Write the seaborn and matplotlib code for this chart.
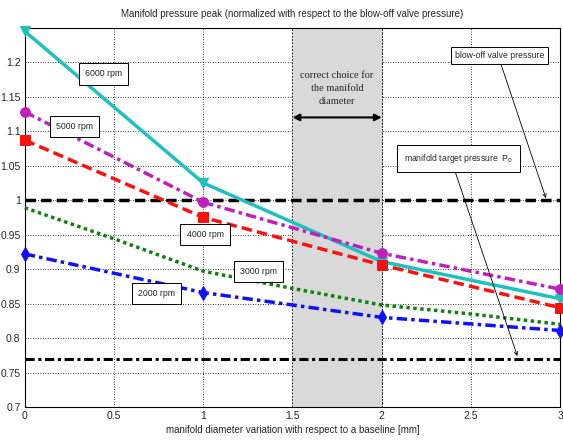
import numpy as np
import pandas as pd
import matplotlib
matplotlib.use("Agg")
import matplotlib.pyplot as plt
import seaborn as sns

# Data
x_main = [0, 1, 2, 3]
p_6000 = [1.245, 1.025, 0.911, 0.857]
p_5000 = [1.128, 0.997, 0.923, 0.871]
p_4000 = [1.087, 0.975, 0.906, 0.844]
p_2000 = [0.922, 0.866, 0.830, 0.811]

x_3000 = [0, 0.5, 1, 1.5, 2, 2.5, 3]
p_3000 = [0.989, 0.944, 0.897, 0.872, 0.848, 0.835, 0.820]

blowoff_level = 1.0
target_level = 0.77
choice_span = [1.5, 2.0]

x_ticks = [0, 0.5, 1, 1.5, 2, 2.5, 3]
y_ticks = [0.7, 0.75, 0.8, 0.85, 0.9, 0.95, 1, 1.05, 1.1, 1.15, 1.2]

sns.set_style("white")
plt.rcParams['font.family'] = ['Liberation Sans Narrow', 'Liberation Sans', 'DejaVu Sans']

fig = plt.figure(figsize=(5.63, 4.41), dpi=100)
ax = fig.add_axes([0.044, 0.077, 0.951, 0.860])

# shaded area for the correct choice
ax.axvspan(choice_span[0], choice_span[1], color='#d9d9d9', zorder=1, lw=0)
for xv in choice_span:
    ax.axvline(xv, color='black', ls=(0, (2, 2)), lw=0.6, zorder=1.2)

# reference levels
ax.axhline(blowoff_level, color='black', ls=(0, (3, 1.5)), lw=2.5, zorder=2)
ax.axhline(target_level, color='black', ls=(0, (3, 1.2, 1, 1.2)), lw=2.2, zorder=2)

# rpm curves
series = [
    (x_main, p_6000, '#1ec0c0', '-', 'v'),
    (x_main, p_5000, '#bf1fbf', (0, (3, 1.2, 1, 1.2)), 'o'),
    (x_main, p_4000, '#ff1010', (0, (3, 1.5)), 's'),
    (x_3000, p_3000, '#108010', (0, (1, 1)), None),
    (x_main, p_2000, '#1010ff', (0, (3, 1.2, 1, 1.2)), 'd'),
]
for xs, ys, col, ls, mk in series:
    df = pd.DataFrame({'x': xs, 'y': ys})
    sns.lineplot(data=df, x='x', y='y', ax=ax, color=col, linestyle=ls,
                 marker=mk, markersize=7, markeredgecolor=col, lw=2.5,
                 zorder=3, clip_on=False)

ax.set_xlim(0, 3)
ax.set_ylim(0.7, 1.25)
ax.set_xticks(x_ticks)
ax.set_xticklabels(['0', '0.5', '1', '1.5', '2', '2.5', '3'])
ax.set_yticks(y_ticks)
ax.set_yticklabels(['0.7', '0.75', '0.8', '0.85', '0.9', '0.95', '1', '1.05', '1.1', '1.15', '1.2'])
ax.tick_params(labelsize=7.5, direction='in', length=3, color='black', pad=3)
ax.grid(True, color='black', ls=(0, (1, 2)), lw=0.6)
ax.set_axisbelow(True)
for s in ax.spines.values():
    s.set_color('black')
    s.set_linewidth(0.8)

ax.set_title('Manifold pressure peak (normalized with respect to the blow-off valve pressure)',
             fontsize=7, pad=8)
ax.set_xlabel('manifold diameter variation with respect to a baseline [mm]', fontsize=7, labelpad=3)
ax.set_ylabel('')

# boxes with rpm labels
box = dict(boxstyle='square,pad=0.7', fc='white', ec='black', lw=0.7)
labels = [('6000 rpm', 0.44, 1.183), ('5000 rpm', 0.28, 1.107),
          ('4000 rpm', 1.01, 0.950), ('3000 rpm', 1.31, 0.897),
          ('2000 rpm', 0.74, 0.865)]
for txt, lx, ly in labels:
    ax.text(lx, ly, txt, fontsize=6.3, ha='center', va='center', bbox=box, zorder=5)

# correct choice arrow and text
ax.annotate('', xy=(2.0, 1.12), xytext=(1.5, 1.12),
            arrowprops=dict(arrowstyle='<|-|>', color='black', lw=1.5,
                            mutation_scale=10, shrinkA=0, shrinkB=0), zorder=5)
ax.text(1.75, 1.162, 'correct choice for\nthe manifold\ndiameter', fontsize=7.5,
        family=['Liberation Serif', 'DejaVu Serif'], ha='center', va='center',
        linespacing=1.6, zorder=5)

# arrows to the reference levels
box2 = dict(boxstyle='square,pad=0.5', fc='white', ec='black', lw=0.7)
ax.annotate('blow-off valve pressure', xy=(2.92, 1.003), xytext=(2.66, 1.21),
            fontsize=6.2, ha='center', va='center', bbox=box2,
            arrowprops=dict(arrowstyle='->', color='black', lw=0.6,
                            shrinkA=0, shrinkB=0, relpos=(0.5, 0)), zorder=5)
ax.annotate('manifold target pressure  P$_0$', xy=(2.76, 0.774), xytext=(2.43, 1.06),
            fontsize=6.2, ha='center', va='center', bbox=dict(boxstyle='square,pad=0.8',
                                                              fc='white', ec='black', lw=0.7),
            arrowprops=dict(arrowstyle='->', color='black', lw=0.6,
                            shrinkA=0, shrinkB=0, relpos=(0.45, 0)), zorder=5)

fig.savefig('out.png', dpi=100)
